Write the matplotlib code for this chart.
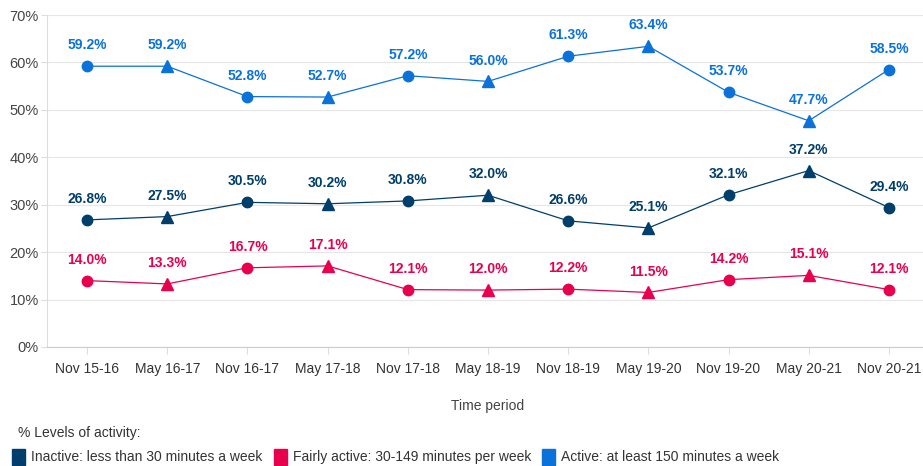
import matplotlib.pyplot as plt
from matplotlib.patches import Rectangle

plt.rcParams['font.family'] = ['Liberation Sans', 'DejaVu Sans']

periods = ['Nov 15-16', 'May 16-17', 'Nov 16-17', 'May 17-18', 'Nov 17-18', 'May 18-19',
           'Nov 18-19', 'May 19-20', 'Nov 19-20', 'May 20-21', 'Nov 20-21']
inactive = [26.8, 27.5, 30.5, 30.2, 30.8, 32.0, 26.6, 25.1, 32.1, 37.2, 29.4]
fairly_active = [14.0, 13.3, 16.7, 17.1, 12.1, 12.0, 12.2, 11.5, 14.2, 15.1, 12.1]
active = [59.2, 59.2, 52.8, 52.7, 57.2, 56.0, 61.3, 63.4, 53.7, 47.7, 58.5]

series_names = ['Inactive: less than 30 minutes a week',
                'Fairly active: 30-149 minutes per week',
                'Active: at least 150 minutes a week']
colors = ['#003E6B', '#E8004F', '#0B72D9']

W, H = 923, 466
fig = plt.figure(figsize=(W / 100, H / 100), dpi=100)
# axes in pixel terms: left 47, right ~929 (last band clipped), top 15, bottom 347
ax = fig.add_axes([47 / W, (H - 347) / H, 882 / W, 332 / H])

x = list(range(len(periods)))
for vals, col in zip([inactive, fairly_active, active], colors):
    ax.plot(x, vals, color=col, linewidth=0.9, zorder=3)
    for i, v in enumerate(vals):
        m = 'o' if i % 2 == 0 else '^'
        ms = 7.5 if m == 'o' else 8
        ax.plot(i, v, marker=m, markersize=ms, color=col, linestyle='none', zorder=4)
        ax.annotate(f'{v:.1f}%', (i, v), xytext=(0, 10), textcoords='offset points',
                    ha='center', va='bottom', fontsize=10, fontweight='bold', color=col)

ax.set_xlim(-0.5, 10.5)
ax.set_ylim(0, 70)
ax.set_yticks(range(0, 71, 10))
ax.set_yticklabels([f'{t}%' for t in range(0, 71, 10)])
ax.set_xticks(x)
ax.set_xticklabels(periods)
ax.grid(axis='y', color='#E6E6E6', linewidth=0.8)
ax.set_axisbelow(True)
for s in ['top', 'right']:
    ax.spines[s].set_visible(False)
ax.spines['left'].set_color('#DDDDDD')
ax.spines['bottom'].set_color('#CCCCCC')
ax.tick_params(axis='x', length=5, color='#DDDDDD', labelsize=10, labelcolor='#333333', pad=6)
ax.tick_params(axis='y', length=4, color='#DDDDDD', labelsize=10.5, labelcolor='#444444', pad=2)

fig.text(488 / W, 1 - 406 / H, 'Time period', ha='center', va='center', fontsize=10, color='#444444')
fig.text(18 / W, 1 - 433 / H, '% Levels of activity:', ha='left', va='center', fontsize=10, color='#333333')

leg_x = [12, 274, 542]
for lx, name, col in zip(leg_x, series_names, colors):
    fig.patches.append(Rectangle((lx / W, 1 - 465 / H), 13 / W, 16 / H,
                                 transform=fig.transFigure, color=col))
    fig.text((lx + 19) / W, 1 - 457 / H, name, ha='left', va='center', fontsize=10, color='#333333')

fig.savefig('out.png', dpi=100)
